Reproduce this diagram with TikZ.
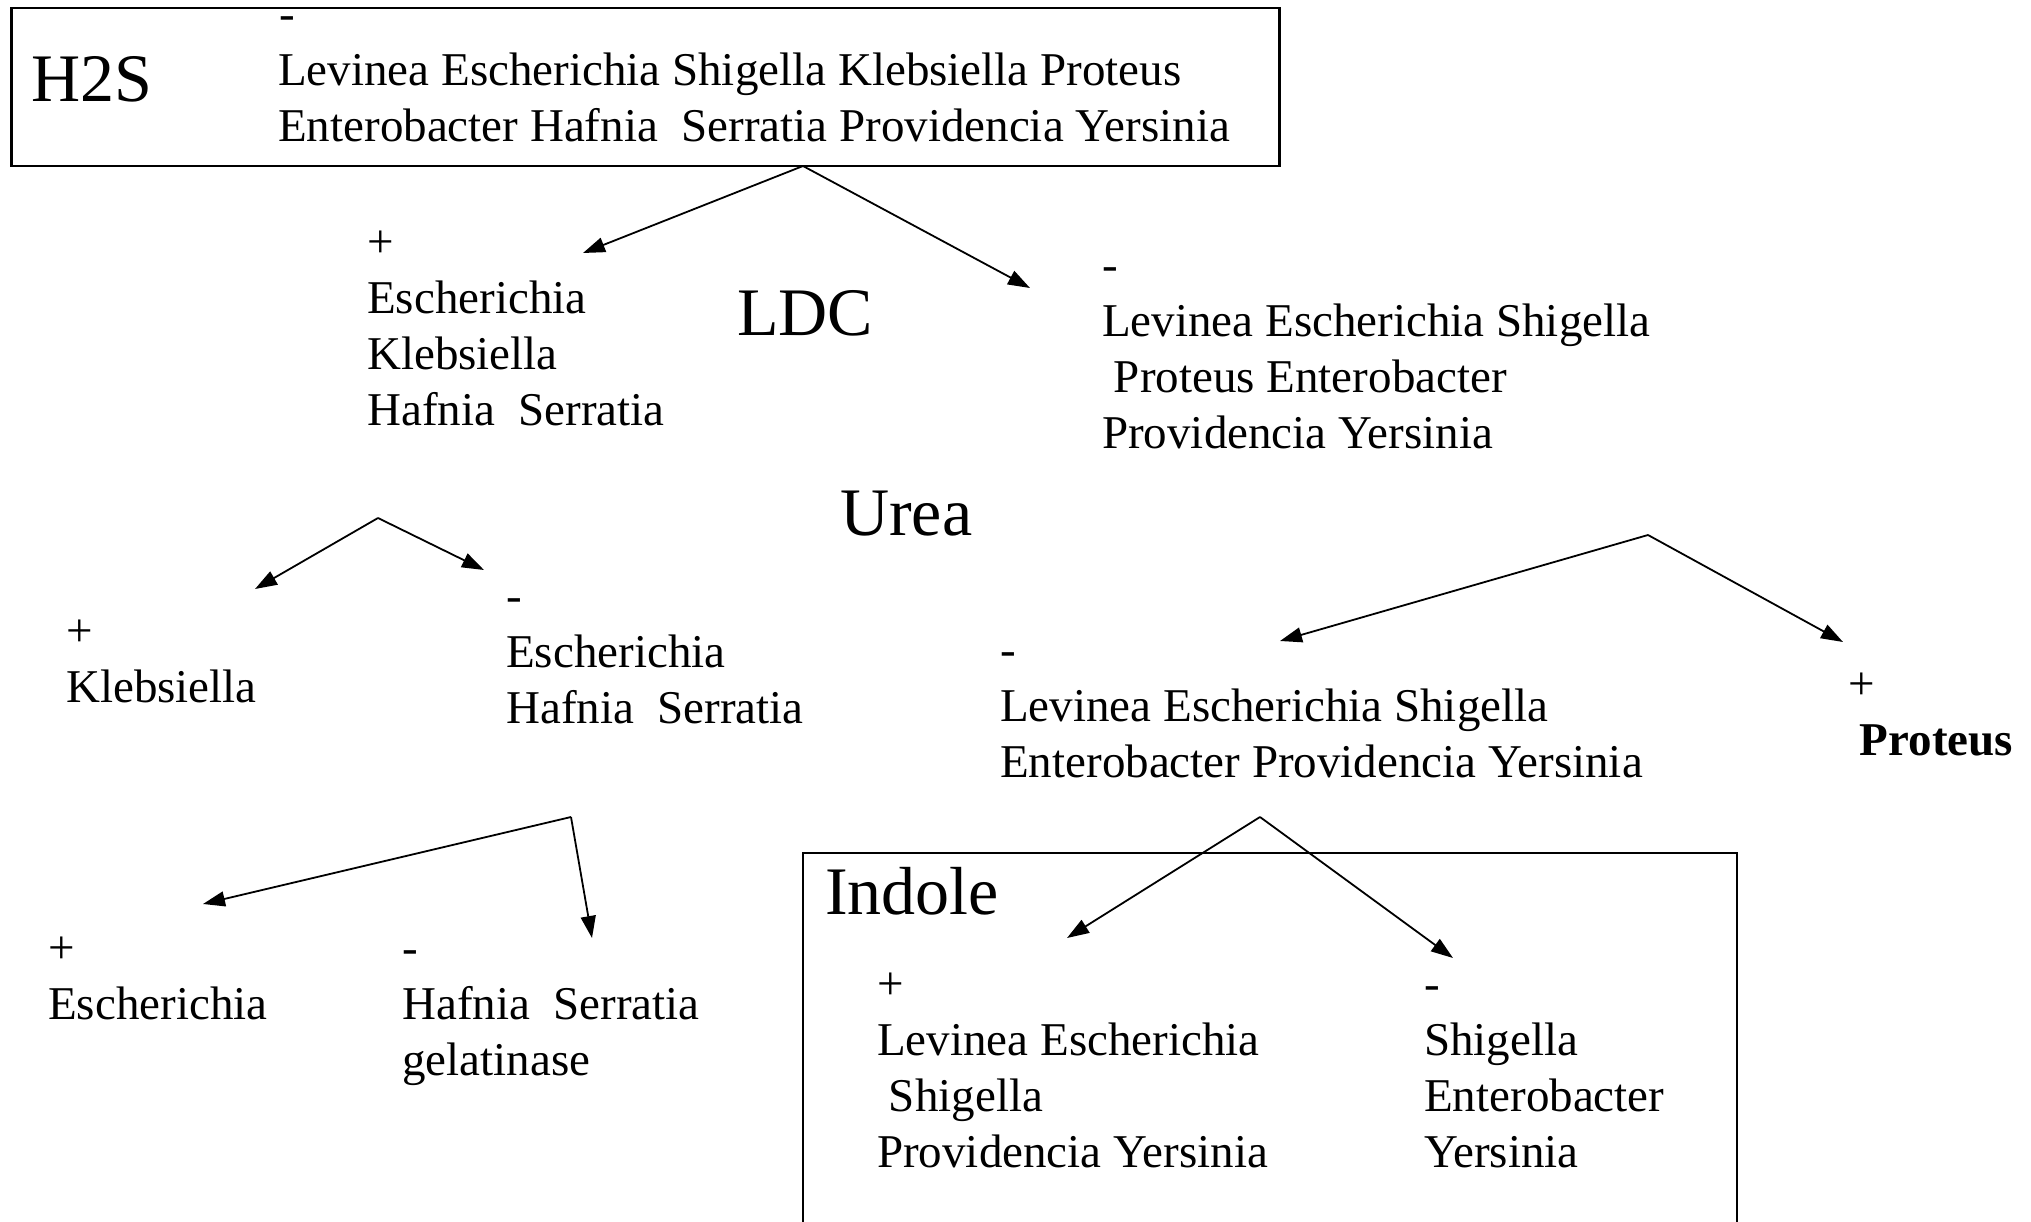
\documentclass[tikz,border=0pt]{standalone}
\usepackage{fontspec}
\setmainfont{Liberation Serif}
\usetikzlibrary{arrows.meta}
\newcommand{\blk}[1]{\begin{tabular}[t]{@{}l@{}}#1\end{tabular}}
\begin{document}
\begin{tikzpicture}[x=1pt,y=-1pt,
  txt/.style={anchor=base west, inner sep=0pt, font=\fontsize{47}{56}\selectfont},
  big/.style={anchor=base west, inner sep=0pt, font=\fontsize{68}{80}\selectfont},
  arr/.style={line width=1.8pt, -{Triangle[length=22pt,width=15pt]}},
  frame/.style={line width=2.5pt}]
\useasboundingbox[fill=white] (0,0) rectangle (2031,1222);

% top box
\node (topbox) [draw, frame, anchor=north west, inner sep=0pt,
  minimum width=1268pt, minimum height=158pt] at (10,7) {};
\node (h2s) [big] at (31,102) {H2S};
\node (topdash) [txt] at (279,30) {-};
\node (all) [txt] at (278,86) {\blk{Levinea Escherichia Shigella Klebsiella Proteus\\Enterobacter Hafnia\ \ Serratia Providencia Yersinia}};

% LDC level
\node (ldc) [big] at (737,336) {LDC};
\node (ldcp) [txt] at (367,258) {\blk{+\\Escherichia\\Klebsiella\\Hafnia\ \ Serratia}};
\node (ldcn) [txt] at (1102,281) {\blk{-\\Levinea Escherichia Shigella\\\hspace*{0.25em}Proteus Enterobacter\\Providencia Yersinia}};

% Urea level
\node (urea) [big] at (840,535) {Urea};
\node (ureaLp) [txt] at (66,646) {\blk{+\\Klebsiella}};
\node (ureaLn) [txt] at (506,611) {\blk{-\\Escherichia\\Hafnia\ \ Serratia}};
\node (ureaRn) [txt] at (1000,665) {\blk{-\\Levinea Escherichia Shigella\\Enterobacter Providencia Yersinia}};
\node (ureaRp) [txt] at (1848,699) {\blk{+\\\textbf{\hspace*{0.25em}Proteus}}};

% gelatinase level
\node (gelp) [txt] at (48,963) {\blk{+\\Escherichia}};
\node (geln) [txt] at (402,963) {\blk{-\\Hafnia\ \ Serratia\\gelatinase}};

% Indole box
\draw[line width=2pt] (803,1222) -- (803,853) -- (1737,853) -- (1737,1222);
\node (indole) [big] at (825,914) {Indole};
\node (indp) [txt] at (877,999) {\blk{+\\Levinea Escherichia\\\hspace*{0.25em}Shigella\\Providencia Yersinia}};
\node (indn) [txt] at (1424,999) {\blk{-\\Shigella\\Enterobacter\\Yersinia}};

% arrow coordinates
\coordinate (o1) at (803,166);
\coordinate (t1a) at (583,253);
\coordinate (t1b) at (1030,288);
\coordinate (o2) at (378,518);
\coordinate (t2a) at (255,589);
\coordinate (t2b) at (484,570);
\coordinate (o3) at (1648,535);
\coordinate (t3a) at (1280,641);
\coordinate (t3b) at (1843,642);
\coordinate (o4) at (571,817);
\coordinate (t4a) at (203,904);
\coordinate (t4b) at (592,938);
\coordinate (o5) at (1260,817);
\coordinate (t5a) at (1067,938);
\coordinate (t5b) at (1453,958);

\draw[arr] (o1) -- (t1a);
\draw[arr] (o1) -- (t1b);
\draw[arr] (o2) -- (t2a);
\draw[arr] (o2) -- (t2b);
\draw[arr] (o3) -- (t3a);
\draw[arr] (o3) -- (t3b);
\draw[arr] (o4) -- (t4a);
\draw[arr] (o4) -- (t4b);
\draw[arr] (o5) -- (t5a);
\draw[arr] (o5) -- (t5b);
\end{tikzpicture}
\end{document}
